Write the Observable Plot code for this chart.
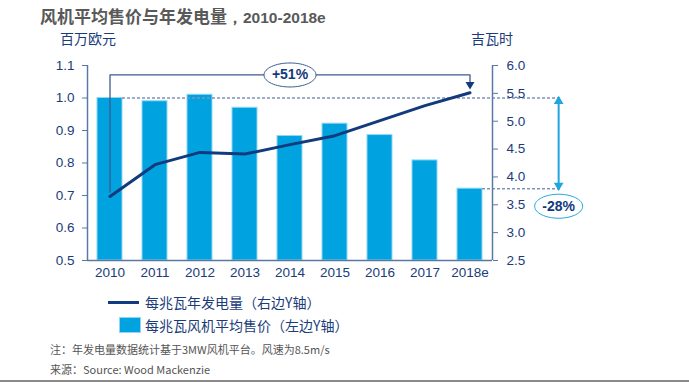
<!DOCTYPE html>
<html><head><meta charset="utf-8">
<script src="https://cdn.jsdelivr.net/npm/d3@7"></script>
<script src="https://cdn.jsdelivr.net/npm/@observablehq/plot@0.6"></script>
<style>
body{margin:0;background:#fff;}
#wrap{position:relative;width:689px;height:382px;overflow:hidden;font-family:"Liberation Sans","Noto Sans CJK SC",sans-serif;}
.abs{position:absolute;white-space:nowrap;}
#title{left:40px;top:3px;font-size:17px;font-weight:bold;color:#595959;font-family:"Noto Sans CJK SC","Liberation Sans",sans-serif;}
#title span{font-family:"Liberation Sans",sans-serif;font-size:15.5px;}
.unit{font-size:14px;color:#1b3c7a;font-family:"Noto Sans CJK SC",sans-serif;top:29px;line-height:18px;}
.leg{font-size:14px;color:#1b3c7a;font-family:"Noto Sans CJK SC","Liberation Sans",sans-serif;line-height:18px;}
.note{font-size:11px;color:#555;left:50px;line-height:14px;font-family:"Noto Sans CJK SC","Liberation Sans",sans-serif;}
</style></head>
<body><div id="wrap">
<div id="title" class="abs">风机平均售价与年发电量<span>，2010-2018e</span></div>
<div class="abs unit" style="left:60px">百万欧元</div>
<div class="abs unit" style="left:471px">吉瓦时</div>
<div class="abs" style="left:108px;top:301px;width:31px;height:3px;background:#123a7e"></div>
<div class="abs leg" style="left:145px;top:293px">每兆瓦年发电量（右边Y轴）</div>
<div class="abs" style="left:119px;top:317px;width:20px;height:14px;background:#00a3e0;border:0.5px solid #8fd6f3"></div>
<div class="abs leg" style="left:145px;top:316px">每兆瓦风机平均售价（左边Y轴）</div>
<div class="abs note" style="top:342px">注：年发电量数据统计基于3MW风机平台。风速为8.5m/s</div>
<div class="abs note" style="top:362px">来源：Source: Wood Mackenzie</div>
<div class="abs" style="left:0;top:380px;width:689px;height:2px;background:#8a8a8a"></div>
</div>
<script>
const years = ["2010","2011","2012","2013","2014","2015","2016","2017","2018e"];
const price = [1.00, 0.99, 1.01, 0.97, 0.883, 0.921, 0.886, 0.808, 0.721];
const output = [3.65, 4.22, 4.44, 4.41, 4.58, 4.74, 5.01, 5.28, 5.51];
const leftTicks = [0.5,0.6,0.7,0.8,0.9,1.0,1.1];
const rightTicks = [2.5,3.0,3.5,4.0,4.5,5.0,5.5,6.0];
const growthLabel = "+51%";
const dropLabel = "-28%";

const toLeft = v => 0.5 + (v - 2.5) * 0.6 / 3.5;
const fromLeft = y => 2.5 + (y - 0.5) * 3.5 / 0.6;

const navy = "#123a7e", textNavy = "#1b3c7a", axisCol = "#5a78a6", barCol = "#00a3e0", lightBlue = "#1ea6e0";
const idx = d3.range(years.length);
const half = 0.278;

const bars = idx.map(i => ({i, v: price[i]}));
const pts = idx.map(i => ({i, y: toLeft(output[i])}));

// annotation geometry in data units
const bracketTop = toLeft(5.83);
const bracket = [
  {x: 0, y: toLeft(3.73)}, {x: 0, y: bracketTop}, {x: 8, y: bracketTop}, {x: 8, y: toLeft(5.66)}
];
const arrowX = 9.97, dashEnd = 10.05;

function ellipse(rx, ry) {
  const k = 0.5523;
  return {draw(ctx) {
    ctx.moveTo(-rx, 0);
    ctx.bezierCurveTo(-rx, -ry * k, -rx * k, -ry, 0, -ry);
    ctx.bezierCurveTo(rx * k, -ry, rx, -ry * k, rx, 0);
    ctx.bezierCurveTo(rx, ry * k, rx * k, ry, 0, ry);
    ctx.bezierCurveTo(-rx * k, ry, -rx, ry * k, -rx, 0);
    ctx.closePath();
  }};
}

const chart = Plot.plot({
  width: 689, height: 285,
  marginLeft: 87, marginRight: 197, marginTop: 65, marginBottom: 25,
  x: {type: "linear", domain: [-0.5, 8.5]},
  y: {domain: [0.5, 1.1]},
  style: {fontFamily: "Liberation Sans, Noto Sans CJK SC, sans-serif", fontSize: "13.5px", color: textNavy, background: "transparent", overflow: "visible"},
  marks: [
    Plot.rectY(bars, {x1: d => d.i - half, x2: d => d.i + half, y1: 0.5, y2: "v", fill: barCol, stroke: "#92d7f4", strokeWidth: 1}),
    // dashed reference lines
    Plot.ruleY([1.0], {x1: half, x2: dashEnd, stroke: "#7f93b8", strokeWidth: 1.5, strokeDasharray: "3,2"}),
    Plot.ruleY([price[8]], {x1: 8 + half, x2: dashEnd, stroke: "#7f93b8", strokeWidth: 1.5, strokeDasharray: "3,2"}),
    // axis lines
    Plot.ruleX([-0.5], {stroke: axisCol, strokeWidth: 1.5}),
    Plot.ruleX([8.5], {stroke: axisCol, strokeWidth: 1.5}),
    Plot.ruleY([0.5], {stroke: axisCol, strokeWidth: 1.5}),
    Plot.axisY(leftTicks, {anchor: "left", tickSize: 5, tickPadding: 8, tickFormat: d3.format(".1f"), stroke: axisCol, fill: textNavy, label: null}),
    Plot.axisY(rightTicks.map(toLeft), {anchor: "right", tickSize: 5, tickPadding: 9, tickFormat: d => fromLeft(d).toFixed(1), stroke: axisCol, fill: textNavy, label: null}),
    Plot.axisX(idx, {anchor: "bottom", tickSize: 0, tickPadding: 7, tickFormat: i => years[i], fill: textNavy, label: null}),
    // line
    Plot.line(pts, {x: "i", y: "y", stroke: navy, strokeWidth: 3}),
    // +51% bracket
    Plot.line(bracket, {x: "x", y: "y", stroke: "#3d5c8f", strokeWidth: 1.3}),
    Plot.dot([{x: 8, y: toLeft(5.66)}], {x: "x", y: "y", symbol: "triangle", r: 3.3, rotate: 180, fill: navy, stroke: null}),
    Plot.dot([{x: 4, y: bracketTop}], {x: "x", y: "y", symbol: ellipse(26, 12), fill: "white", stroke: "#3d5c8f", strokeWidth: 1}),
    Plot.text([growthLabel], {x: 4, y: bracketTop, text: d => d, fill: navy, fontWeight: "bold", fontSize: 14}),
    // -28% double arrow
    Plot.ruleX([arrowX], {y1: 0.99, y2: price[8] + 0.01, stroke: lightBlue, strokeWidth: 2}),
    Plot.dot([{x: arrowX, y: 0.99}], {x: "x", y: "y", symbol: "triangle", r: 3.6, fill: lightBlue, stroke: null}),
    Plot.dot([{x: arrowX, y: price[8] + 0.01}], {x: "x", y: "y", symbol: "triangle", r: 3.6, rotate: 180, fill: lightBlue, stroke: null}),
    Plot.dot([{x: arrowX, y: 0.667}], {x: "x", y: "y", symbol: ellipse(24, 12), fill: "white", stroke: lightBlue, strokeWidth: 1}),
    Plot.text([dropLabel], {x: arrowX, y: 0.667, text: d => d, fill: navy, fontWeight: "bold", fontSize: 14})
  ]
});
chart.style.position = "absolute";
chart.style.left = "0px";
chart.style.top = "0px";
document.getElementById("wrap").insertBefore(chart, document.getElementById("wrap").firstChild);
</script>
</body></html>
